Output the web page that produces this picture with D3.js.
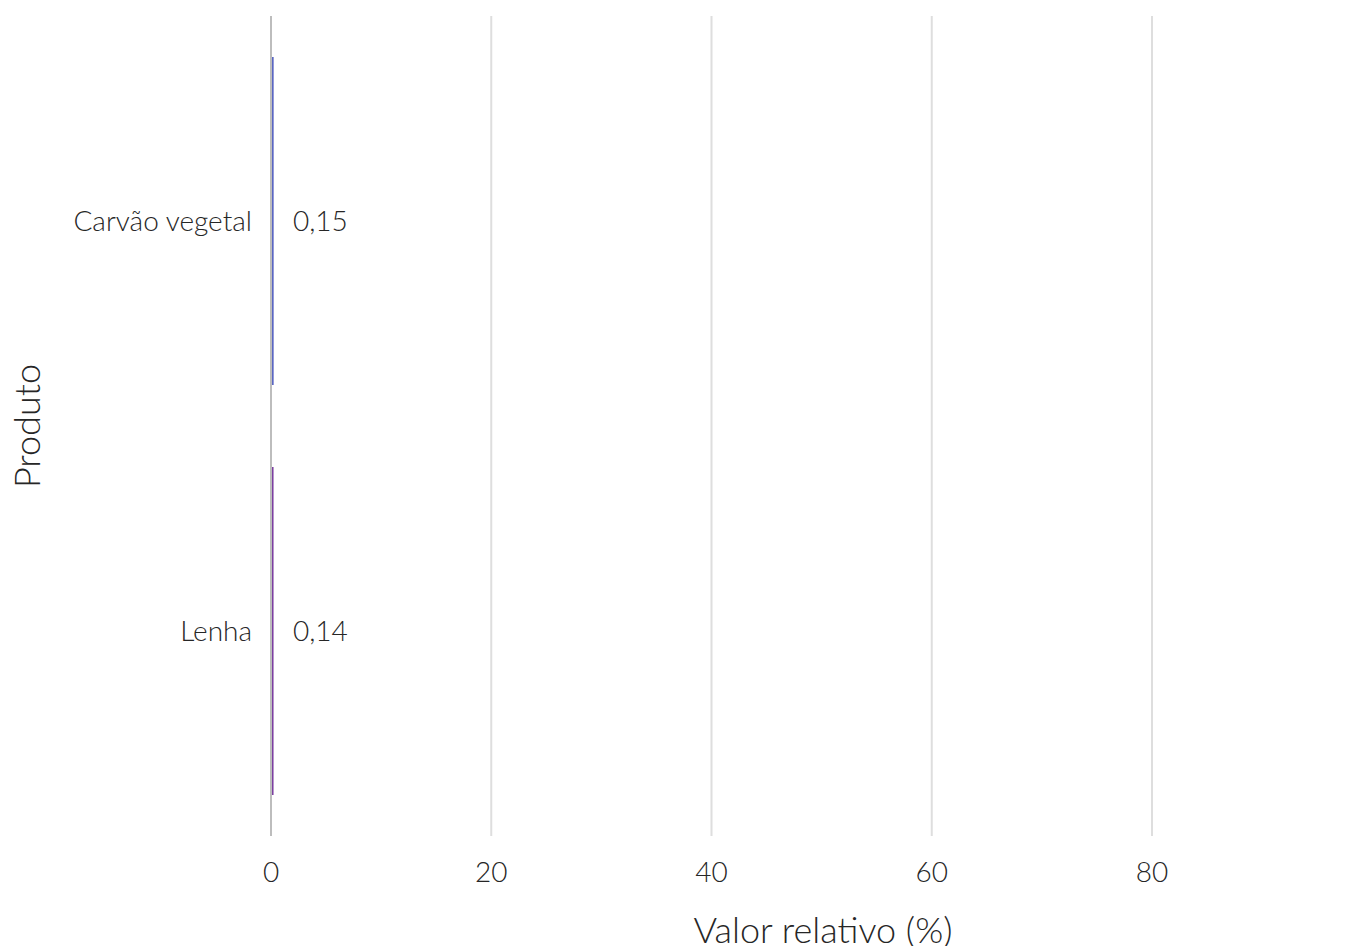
<!DOCTYPE html>
<html><head><meta charset="utf-8">
<script src="https://cdn.jsdelivr.net/npm/d3@7"></script>
<style>body{margin:0;background:#fff}text{font-family:Lato,sans-serif;font-weight:300;fill:#262626}</style>
</head><body><svg id="c" width="1364" height="946"></svg>
<script>
const categories = ["Carvão vegetal", "Lenha"];
const values = [0.15, 0.14];
const valueLabels = ["0,15", "0,14"];
const barColors = ["#5a66c2", "#7b3fa0"];
const xTicks = [0, 20, 40, 60, 80];

const svg = d3.select("#c");
const x = d3.scaleLinear().domain([0, 80]).range([271, 1152]);
const y = d3.scaleBand().domain(categories).range([16, 836]).paddingInner(0.2).paddingOuter(0.1);

const grid = svg.append("g");
grid.selectAll("line").data(xTicks).join("line")
  .attr("x1", d => x(d)).attr("x2", d => x(d))
  .attr("y1", 16).attr("y2", 836)
  .attr("stroke", d => d === 0 ? "#bdbdbd" : "#dedede")
  .attr("stroke-width", 2);

svg.append("g").selectAll("rect").data(categories).join("rect")
  .attr("x", x(0) + 1)
  .attr("y", d => y(d))
  .attr("width", (d, i) => Math.max(1.5, x(values[i]) - x(0)))
  .attr("height", y.bandwidth())
  .attr("fill", (d, i) => barColors[i]);

svg.append("g").selectAll("text").data(categories).join("text")
  .attr("x", x(0) + 22)
  .attr("y", d => y(d) + y.bandwidth() / 2)
  .attr("dy", "0.35em")
  .attr("font-size", 28)
  .text((d, i) => valueLabels[i]);

svg.append("g").selectAll("text").data(categories).join("text")
  .attr("x", 252)
  .attr("y", d => y(d) + y.bandwidth() / 2)
  .attr("dy", "0.35em")
  .attr("text-anchor", "end")
  .attr("font-size", 28)
  .text(d => d);

svg.append("g").selectAll("text").data(xTicks).join("text")
  .attr("x", d => x(d))
  .attr("y", 872)
  .attr("dy", "0.35em")
  .attr("text-anchor", "middle")
  .attr("font-size", 28)
  .text(d => d);

svg.append("text").attr("x", 823).attr("y", 930).attr("dy", "0.35em")
  .attr("text-anchor", "middle").attr("font-size", 36).text("Valor relativo (%)");

svg.append("text").attr("transform", "translate(27,426) rotate(-90)").attr("dy", "0.35em")
  .attr("text-anchor", "middle").attr("font-size", 36).text("Produto");
</script></body></html>
